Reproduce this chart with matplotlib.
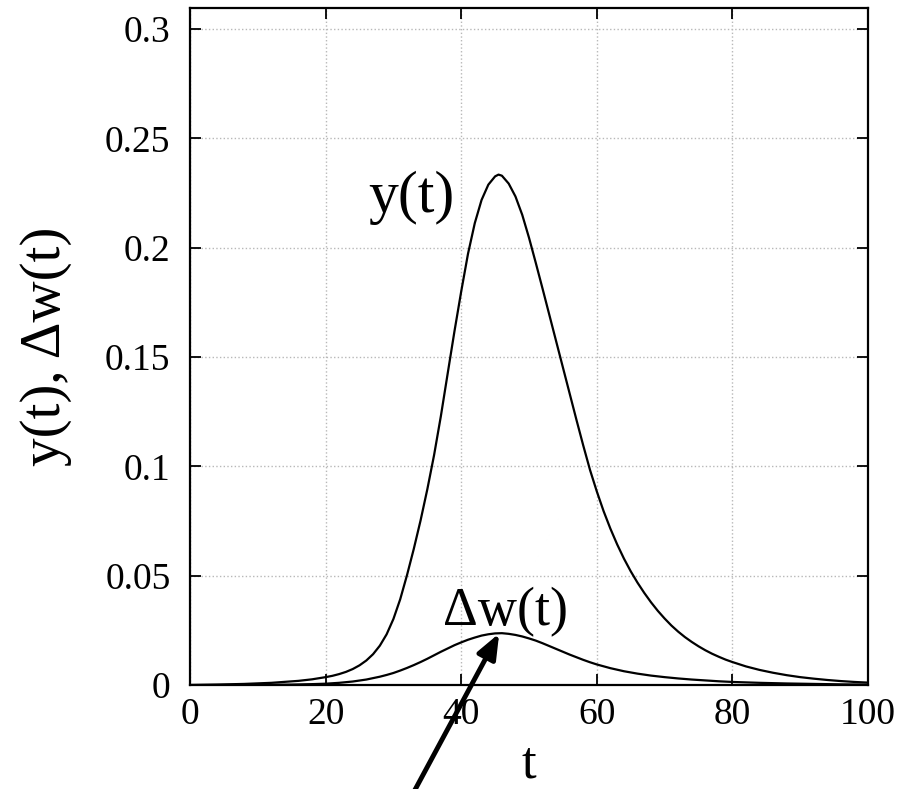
import matplotlib
matplotlib.use('Agg')
import matplotlib.pyplot as plt

plt.rcParams['font.family'] = ['Liberation Serif', 'DejaVu Serif']

# y(t)
t_y = [0, 4, 8, 12, 16, 18, 19, 20, 21, 22, 23, 24, 25, 26, 27, 28, 29, 30,
       31, 32, 33, 34, 35, 36, 37, 38, 39, 40, 41, 42, 43, 44, 45, 45.5, 46,
       47, 48, 49, 50, 51, 52, 53, 54, 55, 56, 57, 58, 59, 60, 61, 62, 63,
       64, 65, 66, 67, 68, 69, 70, 71, 72, 73, 74, 75, 76, 77, 78, 79, 80,
       82, 84, 86, 88, 90, 92, 94, 96, 98, 100]
y = [0.0, 0.0002, 0.0005, 0.0010, 0.0019, 0.0026, 0.0031, 0.0036, 0.0042,
     0.0050, 0.0060, 0.0073, 0.0090, 0.0112, 0.0141, 0.0180, 0.0232,
     0.0302, 0.0392, 0.0502, 0.0622, 0.0752, 0.0895, 0.1052, 0.1230,
     0.1424, 0.1617, 0.1800, 0.1972, 0.2112, 0.2218, 0.2288, 0.2326,
     0.2334, 0.2329, 0.2293, 0.2234, 0.2150, 0.2045, 0.1930, 0.1812,
     0.1692, 0.1572, 0.1452, 0.1332, 0.1212, 0.1095, 0.0983, 0.0885,
     0.0795, 0.0715, 0.0643, 0.0578, 0.0520, 0.0468, 0.0421, 0.0378,
     0.0339, 0.0304, 0.0272, 0.0244, 0.0219, 0.0197, 0.0177, 0.0159,
     0.0143, 0.0129, 0.0116, 0.0105, 0.0085, 0.0069, 0.0056, 0.0045,
     0.0036, 0.0029, 0.0023, 0.0018, 0.0014, 0.0011]

# delta w(t)
t_dw = [0, 5, 10, 15, 18, 20, 22, 24, 26, 28, 29, 30, 31, 32, 33, 34, 35,
        36, 37, 38, 39, 40, 41, 42, 43, 44, 45, 46, 47, 48, 49, 50, 51, 52,
        53, 54, 55, 56, 57, 58, 59, 60, 62, 64, 66, 68, 70, 72, 74, 76, 78,
        80, 84, 88, 92, 96, 100]
dw = [0.0, 0.00002, 0.00008, 0.0002, 0.0004, 0.0006, 0.0010, 0.0016,
      0.0025, 0.0038, 0.0046, 0.0055, 0.0066, 0.0078, 0.0091, 0.0105,
      0.0120, 0.0136, 0.0152, 0.0167, 0.0182, 0.0195, 0.0207, 0.0217,
      0.0226, 0.0232, 0.0236, 0.0237, 0.0234, 0.0229, 0.0222, 0.0213,
      0.0203, 0.0191, 0.0178, 0.0165, 0.0152, 0.0139, 0.0127, 0.0115,
      0.0104, 0.0094, 0.0077, 0.0063, 0.0052, 0.0043, 0.0036, 0.0030,
      0.0025, 0.0021, 0.0017, 0.0014, 0.0010, 0.0007, 0.0005, 0.0003,
      0.0002]

xticks = [0, 20, 40, 60, 80, 100]
yticks = [0, 0.05, 0.1, 0.15, 0.2, 0.25, 0.3]
yticklabels = ['0', '0.05', '0.1', '0.15', '0.2', '0.25', '0.3']

fig = plt.figure(figsize=(9.14, 7.89), dpi=100)
ax = fig.add_axes([0.2079, 0.1318, 0.7418, 0.8581])

ax.plot(t_y, y, color='black', lw=1.6)
ax.plot(t_dw, dw, color='black', lw=1.6)

ax.set_xlim(0, 100)
ax.set_ylim(0, 0.3096)
ax.set_xticks(xticks)
ax.set_yticks(yticks)
ax.set_yticklabels(yticklabels)
ax.tick_params(direction='in', length=8, width=1.3, top=True, right=True,
               labelsize=27)
ax.tick_params(axis='y', pad=14)
ax.tick_params(axis='x', pad=9)
ax.grid(True, color='#b8b8b8', ls=':', lw=1.0)
for s in ax.spines.values():
    s.set_linewidth(1.6)

ax.set_xlabel('t', fontsize=38, va='center')
ax.xaxis.set_label_coords(0.5, -0.118)
ax.set_ylabel('y(t), Δw(t)', fontsize=41, va='center')
ax.yaxis.set_label_coords(-0.212, 0.5)

ax.text(32.7, 0.2227, 'y(t)', fontsize=43, ha='center', va='center')
ax.text(46.6, 0.0334, 'Δw(t)', fontsize=39, ha='center', va='center')

# arrow pointing at the peak of delta w, its tail runs off the bottom edge
ax.annotate('', xy=(45.6, 0.0236), xytext=(32.3, -0.053),
            arrowprops=dict(arrowstyle='-|>,head_width=0.6,head_length=1.5',
                            lw=3.5, color='black', shrinkA=0, shrinkB=0),
            annotation_clip=False)

fig.savefig('out.png', dpi=100)
